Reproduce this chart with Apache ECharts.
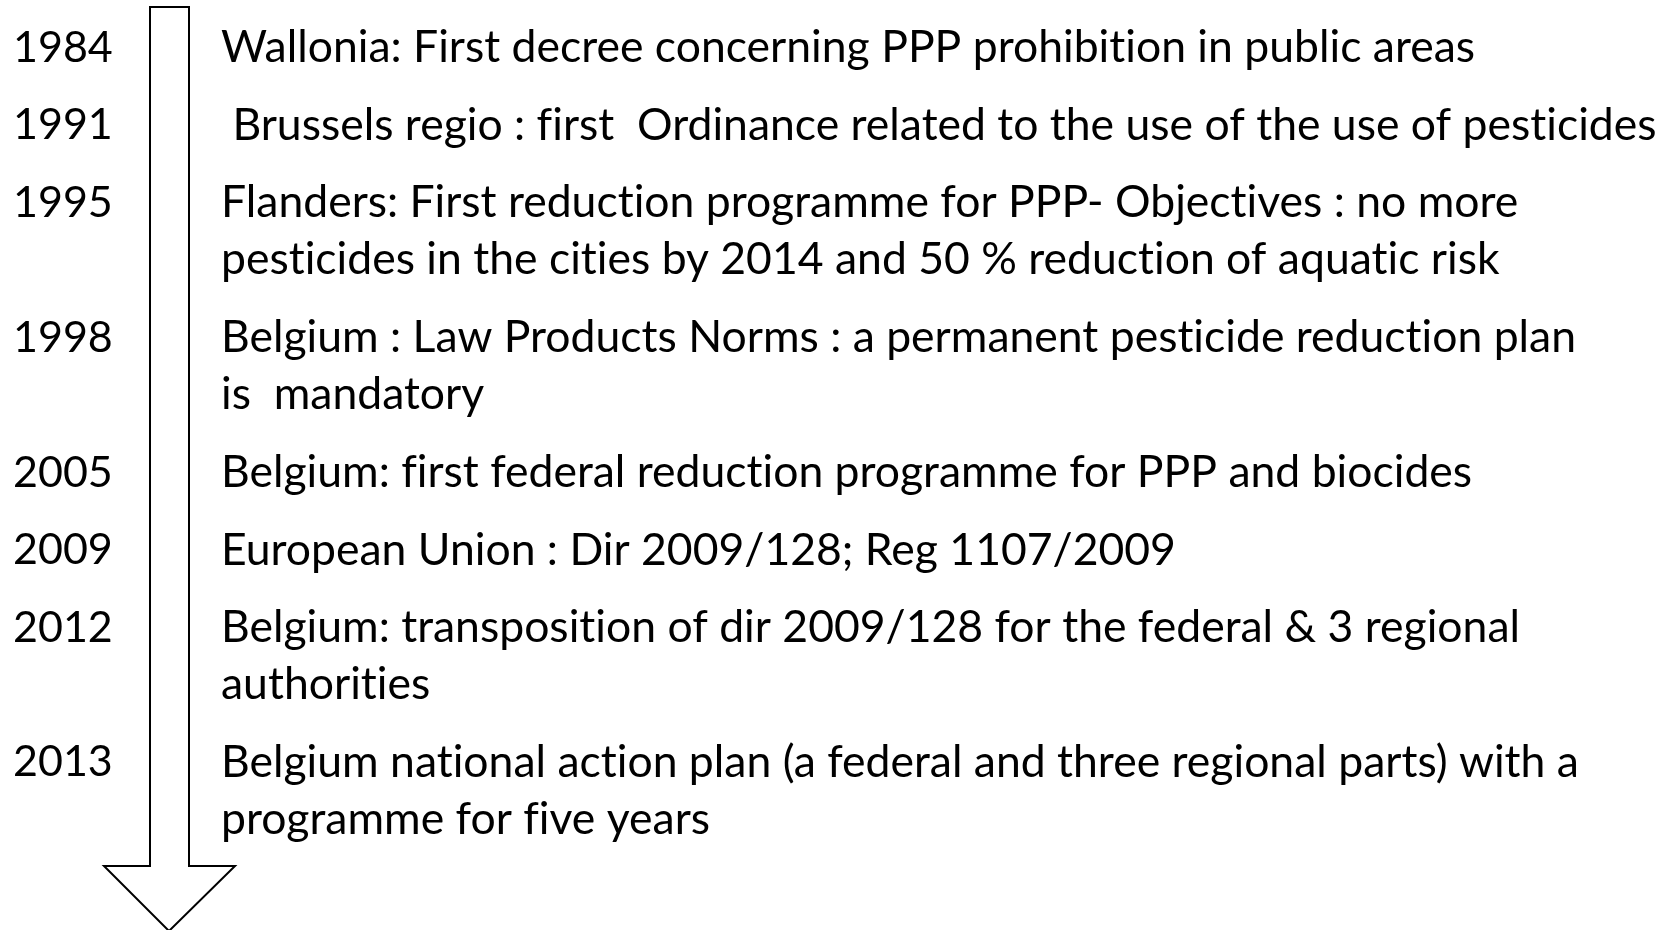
<!DOCTYPE html>
<html>
<head>
<meta charset="utf-8">
<script src="https://cdn.jsdelivr.net/npm/echarts@6/dist/echarts.min.js"></script>
<style>
  html, body { margin: 0; padding: 0; background: #fff; }
  #main { width: 1673px; height: 930px; }
</style>
</head>
<body>
<div id="main"></div>
<script>
// timeline data
const years = ['1984', '1991', '1995', '1998', '2005', '2009', '2012', '2013'];
const events = [
  'Wallonia: First decree concerning PPP prohibition in public areas',
  ' Brussels regio : first  Ordinance related to the use of the use of pesticides',
  'Flanders: First reduction programme for PPP- Objectives : no more\npesticides in the cities by 2014 and 50 % reduction of aquatic risk',
  'Belgium : Law Products Norms : a permanent pesticide reduction plan\nis  mandatory',
  'Belgium: first federal reduction programme for PPP and biocides',
  'European Union : Dir 2009/128; Reg 1107/2009',
  'Belgium: transposition of dir 2009/128 for the federal & 3 regional\nauthorities',
  'Belgium national action plan (a federal and three regional parts) with a\nprogramme for five years'
];

const font = '44.5px Lato';
const lineH = 57;

// Lato joins "fi", "ti" etc; break those ligatures with a zero width non-joiner
function noLig(s) {
  return s.replace(/([ft])(?=[ifl])/g, '$1\u200C');
}

// row positions in "row units": a new entry is 1, a wrapped line adds a bit less
const rowPos = [];
let acc = 0;
events.forEach(e => {
  rowPos.push(acc);
  acc += 1 + 0.74 * (e.split('\n').length - 1);
});

const chart = echarts.init(document.getElementById('main'));
chart.setOption({
  animation: false,
  grid: { left: 0, right: 0, top: 0, bottom: 0 },
  xAxis: { type: 'value', min: 0, max: 1673, show: false },
  yAxis: { type: 'value', min: -0.62, max: 11.38, inverse: true, show: false },
  graphic: [{
    type: 'polygon',
    shape: {
      points: [[150, 7], [189, 7], [189, 866], [235, 866], [169, 931], [104, 866], [150, 866]]
    },
    style: { fill: '#fff', stroke: '#000', lineWidth: 2 },
    z: 1
  }],
  series: [{
    type: 'custom',
    z: 5,
    data: rowPos.map((y, i) => [0, y, i]),
    renderItem: function (params, api) {
      const p = api.coord([0, api.value(1)]);
      const i = api.value(2);
      return {
        type: 'group',
        children: [
          {
            type: 'text',
            style: { x: 13, y: p[1], text: years[i], font: '43px Lato', fill: '#000', verticalAlign: 'middle' }
          },
          {
            type: 'text',
            style: {
              x: 221, y: p[1] - lineH / 2, text: noLig(events[i]), font: font, fill: '#000',
              verticalAlign: 'top', lineHeight: lineH
            }
          }
        ]
      };
    }
  }]
});
</script>
</body>
</html>
